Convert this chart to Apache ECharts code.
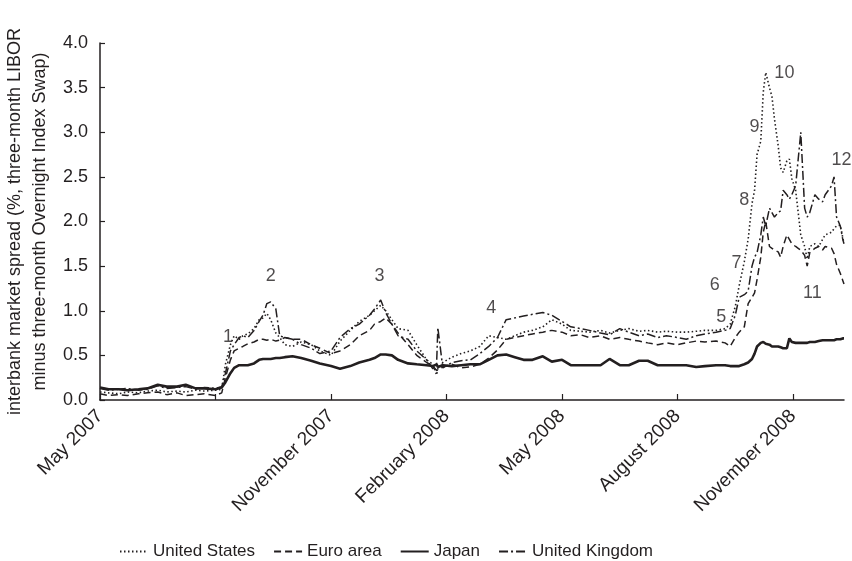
<!DOCTYPE html>
<html><head><meta charset="utf-8">
<script src="https://cdn.jsdelivr.net/npm/echarts@6/dist/echarts.min.js"></script>
<style>html,body{margin:0;padding:0;background:#fff}#c{width:852px;height:561px}</style>
</head><body><div id="c"></div>
<script>
const dates = [
'2007-05-01','2007-05-08','2007-05-16','2007-05-23','2007-06-01','2007-06-08','2007-06-16','2007-06-23',
'2007-07-01','2007-07-08','2007-07-16','2007-07-23','2007-08-01','2007-08-06','2007-08-09','2007-08-13',
'2007-08-16','2007-08-20','2007-08-23','2007-08-27','2007-09-01','2007-09-05','2007-09-08','2007-09-11',
'2007-09-14','2007-09-18','2007-09-21','2007-09-25','2007-10-01','2007-10-08','2007-10-16','2007-10-23',
'2007-11-01','2007-11-08','2007-11-16','2007-11-23','2007-12-01','2007-12-05','2007-12-10','2007-12-14',
'2007-12-19','2007-12-24','2008-01-01','2008-01-08','2008-01-16','2008-01-21','2008-01-24','2008-01-25',
'2008-01-29','2008-02-05','2008-02-12','2008-02-19','2008-02-26','2008-03-04','2008-03-11','2008-03-18',
'2008-03-25','2008-04-01','2008-04-08','2008-04-16','2008-04-23','2008-05-01','2008-05-08','2008-05-16',
'2008-05-23','2008-06-01','2008-06-08','2008-06-16','2008-06-23','2008-07-01','2008-07-08','2008-07-16',
'2008-07-23','2008-08-01','2008-08-08','2008-08-16','2008-08-23','2008-09-01','2008-09-08','2008-09-12',
'2008-09-16','2008-09-19','2008-09-23','2008-09-26','2008-09-29','2008-10-01','2008-10-03','2008-10-06',
'2008-10-08','2008-10-10','2008-10-13','2008-10-15','2008-10-17','2008-10-20','2008-10-22','2008-10-24',
'2008-10-27','2008-10-29','2008-10-31','2008-11-03','2008-11-05','2008-11-07','2008-11-10','2008-11-12',
'2008-11-14','2008-11-18','2008-11-21','2008-11-24','2008-11-26','2008-12-01','2008-12-03','2008-12-05',
'2008-12-08','2008-12-10','2008-12-11'];

const unitedStates = [
0.09,0.08,0.07,0.09,0.08,0.10,0.11,0.09,
0.10,0.09,0.11,0.10,0.11,0.12,0.40,0.62,
0.72,0.68,0.72,0.74,0.80,0.90,0.92,0.97,
0.90,0.75,0.70,0.62,0.60,0.65,0.62,0.55,
0.50,0.66,0.78,0.88,0.95,1.00,1.06,1.00,
0.90,0.80,0.78,0.62,0.45,0.40,0.28,0.35,
0.42,0.48,0.52,0.55,0.60,0.72,0.70,0.68,
0.72,0.76,0.78,0.82,0.90,0.85,0.78,0.77,
0.76,0.78,0.75,0.78,0.80,0.77,0.78,0.76,
0.77,0.76,0.76,0.77,0.78,0.78,0.80,0.85,
1.05,1.28,1.55,1.80,2.20,2.35,2.75,2.90,
3.45,3.67,3.50,3.40,3.15,2.85,2.60,2.55,
2.68,2.70,2.48,2.35,2.10,1.85,1.72,1.58,
1.72,1.75,1.72,1.80,1.85,1.88,1.92,1.95,
1.96,1.82,1.76];

const euroArea = [
0.07,0.05,0.06,0.05,0.07,0.08,0.09,0.06,
0.08,0.05,0.06,0.07,0.05,0.08,0.25,0.45,
0.55,0.58,0.60,0.63,0.65,0.68,0.68,0.67,
0.68,0.66,0.67,0.70,0.68,0.68,0.62,0.58,
0.52,0.55,0.62,0.72,0.78,0.85,0.88,0.92,
0.85,0.75,0.62,0.50,0.42,0.38,0.33,0.35,
0.37,0.40,0.36,0.37,0.40,0.47,0.56,0.68,
0.70,0.72,0.74,0.76,0.78,0.76,0.72,0.73,
0.70,0.72,0.68,0.70,0.68,0.66,0.64,0.62,
0.64,0.62,0.64,0.66,0.65,0.66,0.64,0.60,
0.70,0.76,0.82,1.08,1.15,1.20,1.35,1.60,
1.88,2.00,1.72,1.70,1.68,1.66,1.60,1.72,
1.85,1.80,1.75,1.72,1.70,1.68,1.62,1.50,
1.65,1.70,1.72,1.68,1.72,1.70,1.64,1.52,
1.42,1.34,1.30];

const japan = [
0.14,0.12,0.12,0.11,0.12,0.13,0.17,0.15,
0.15,0.17,0.13,0.13,0.12,0.14,0.20,0.30,
0.36,0.39,0.39,0.39,0.41,0.45,0.46,0.46,
0.46,0.47,0.47,0.48,0.49,0.47,0.44,0.41,
0.38,0.35,0.38,0.42,0.45,0.47,0.51,0.51,
0.50,0.45,0.41,0.40,0.39,0.38,0.40,0.37,
0.39,0.38,0.39,0.40,0.40,0.45,0.50,0.51,
0.48,0.45,0.45,0.49,0.43,0.45,0.39,0.39,
0.39,0.39,0.46,0.39,0.39,0.44,0.44,0.39,
0.39,0.39,0.39,0.37,0.38,0.39,0.39,0.38,
0.38,0.38,0.40,0.42,0.46,0.52,0.60,0.64,
0.65,0.63,0.62,0.60,0.60,0.60,0.59,0.58,
0.58,0.69,0.65,0.64,0.64,0.64,0.64,0.64,
0.65,0.65,0.66,0.67,0.67,0.67,0.67,0.68,
0.68,0.69,0.69];

const unitedKingdom = [
0.13,0.11,0.12,0.13,0.11,0.12,0.16,0.13,
0.14,0.15,0.12,0.14,0.13,0.15,0.30,0.55,
0.62,0.70,0.72,0.70,0.78,0.88,0.95,1.08,
1.10,1.02,0.72,0.70,0.68,0.62,0.58,0.52,
0.55,0.70,0.80,0.85,0.95,1.02,1.12,0.98,
0.85,0.72,0.68,0.55,0.45,0.35,0.40,0.81,
0.36,0.42,0.44,0.45,0.52,0.60,0.70,0.90,
0.92,0.94,0.96,0.98,0.95,0.88,0.82,0.80,
0.78,0.75,0.73,0.80,0.76,0.72,0.74,0.70,
0.72,0.70,0.68,0.72,0.74,0.76,0.78,0.80,
0.95,1.15,1.18,1.22,1.50,1.60,1.65,1.85,
2.05,1.95,2.15,2.10,2.05,2.10,2.12,2.35,
2.30,2.25,2.30,2.40,2.70,3.00,2.15,2.05,
2.10,2.30,2.25,2.22,2.30,2.40,2.50,2.05,
1.95,1.80,1.75];

const tickMonths = [0, 3, 6, 9, 12, 15, 18];
const tickLabels = ['May 2007', '', 'November 2007', 'February 2008', 'May 2008', 'August 2008', 'November 2008'];
const annotationDates = ['2007-08-11','2007-09-14','2007-12-09','2008-03-06','2008-09-05','2008-08-31','2008-09-17','2008-09-23','2008-10-01','2008-10-25','2008-11-16','2008-12-09'];
const annotationValues = [0.70,1.39,1.39,1.03,0.93,1.29,1.53,2.24,3.06,3.66,1.20,2.69];
const annotationTexts = ['1','2','3','4','5','6','7','8','9','10','11','12'];

function monthIndex(s) {
  const p = s.split('-').map(Number);
  const dim = new Date(p[0], p[1], 0).getDate();
  return (p[0] - 2007) * 12 + (p[1] - 5) + (p[2] - 1) / dim;
}
const pts = v => dates.map((d, i) => [monthIndex(d), v[i]]);
const INK = '#231f20';
const FONT = '"Liberation Sans", Arial, sans-serif';

const chart = echarts.init(document.getElementById('c'), null, {renderer: 'canvas'});
function lineSeries(name, vals, type, width) {
  return {name, type: 'line', data: pts(vals), symbol: 'none', showSymbol: false,
    lineStyle: {color: INK, width: width, type: type}, itemStyle: {color: INK},
    emphasis: {disabled: true}, animation: false, z: 2};
}
chart.setOption({
  animation: false,
  textStyle: {fontFamily: FONT},
  grid: {left: 100, right: 8, top: 43, bottom: 161, containLabel: false, outerBoundsMode: 'none'},
  xAxis: {
    type: 'value', min: 0, max: monthIndex('2008-12-11'), interval: 3,
    axisLine: {lineStyle: {color: INK, width: 1.5}},
    axisTick: {inside: true, length: 6, lineStyle: {color: INK, width: 1.2}, customValues: tickMonths},
    axisLabel: {rotate: 45, margin: 13, color: INK, fontSize: 19, fontFamily: FONT, customValues: tickMonths,
      hideOverlap: false,
      formatter: v => { const k = tickMonths.indexOf(Math.round(v)); return k >= 0 ? tickLabels[k] : ''; }},
    splitLine: {show: false}
  },
  yAxis: {
    type: 'value', min: 0, max: 4, interval: 0.5,
    name: 'interbank market spread (%, three-month LIBOR\nminus three-month Overnight Index Swap)',
    nameLocation: 'middle', nameGap: 44, nameRotate: 90,
    nameTextStyle: {color: INK, fontSize: 18, lineHeight: 25, fontFamily: FONT},
    axisLine: {show: true, lineStyle: {color: INK, width: 1.5}},
    axisTick: {show: true, inside: true, length: 5, lineStyle: {color: INK, width: 1.2}},
    axisLabel: {color: INK, fontSize: 18, margin: 12, fontFamily: FONT, formatter: v => v.toFixed(1)},
    splitLine: {show: false}
  },
  legend: {
    data: ['United States', 'Euro area', 'Japan', 'United Kingdom'],
    left: 114, top: 538, itemWidth: 28, itemHeight: 14, itemGap: 18,
    itemStyle: {opacity: 0},
    textStyle: {color: INK, fontSize: 17, fontFamily: FONT}, selectedMode: false
  },
  series: [
    lineSeries('United States', unitedStates, [1.5, 2.5], 1.6),
    lineSeries('Euro area', euroArea, [7, 4], 1.5),
    lineSeries('Japan', japan, 'solid', 2.6),
    lineSeries('United Kingdom', unitedKingdom, [9, 3, 2, 3], 1.5),
    {name: 'notes', type: 'scatter', symbolSize: 1, itemStyle: {color: 'transparent'},
     data: annotationDates.map((d, i) => ({value: [monthIndex(d), annotationValues[i]], label: {formatter: annotationTexts[i]}})),
     label: {show: true, position: 'inside', color: INK, fontSize: 18, fontFamily: FONT},
     silent: true, z: 5}
  ]
});
</script></body></html>
